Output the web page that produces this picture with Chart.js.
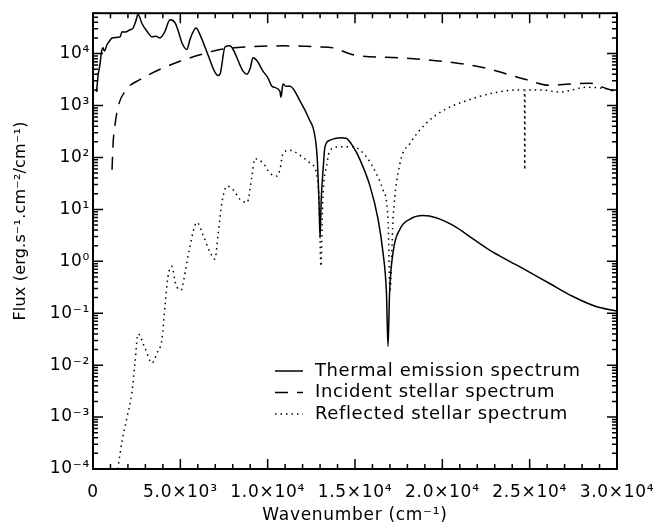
<!DOCTYPE html>
<html lang="en">
<head>
    <meta charset="UTF-8">
    <title>Flux spectra</title>
    <script src="https://cdn.jsdelivr.net/npm/chart.js"></script>
    <style>
        body { margin: 0; padding: 0; background: #fff; }
        canvas { display: block; }
    </style>
</head>
<body>
    <canvas id="spectrum" width="666" height="530"></canvas>

    <script>
        // Thermal emission spectrum (solid)
        const thermalWn = [200, 300, 400, 480, 570, 650, 800, 950, 1090, 1300, 1550, 1660, 1850, 2120, 2290, 2450, 2580,
            2800, 3090, 3380, 3600, 3840, 4100, 4410, 4700, 4900, 5100, 5380, 5550, 5900, 6130, 6580,
            6980, 7150, 7270, 7560, 7840, 8050, 8240, 8590, 8820, 9000, 9160, 9400, 9730, 10000, 10250, 10700, 10760,
            10880, 11050, 11280, 11850, 12420, 12650, 12830, 12940, 13000, 13060, 13180, 13280, 13570, 13910,
            14200, 14490, 14900, 15290, 15860, 16320, 16600, 16800, 16890, 16980, 17180, 17580, 18150,
            18900, 19640, 20620, 21760, 22900, 24450, 26170, 27480, 28800, 30000];
        const thermalFlux = [1820, 4000, 6200, 10500, 12900, 11200, 14800, 17500, 20000, 20500, 21000, 26300, 26000, 28800, 31000, 42000, 57000,
            38000, 27000, 21000, 21500, 20000, 26000, 44700, 39000, 26000, 15800, 12000, 18600, 31000, 23000, 9500,
            4400, 3800, 4000, 13500, 14100, 11500, 8300, 4600, 4000, 5200, 8300, 7200, 4600, 3500, 2350, 1900, 1450,
            2600, 2350, 2350, 1230, 510, 320, 105, 13.5, 2.8, 13.5, 63, 160, 215, 235,
            240, 235, 160, 90, 28, 6.5, 1.5, 0.25, 0.023, 0.25, 1.5, 4.2, 6.5,
            7.6, 6.9, 4.9, 2.7, 1.5, 0.78, 0.37, 0.21, 0.135, 0.11];

        // Incident stellar spectrum (dashed)
        const incidentWn = [1090, 1150, 1250, 1430, 1950, 2690, 3840, 4980, 6130, 7270, 8990, 10880, 12830,
            13740, 14890, 17580, 20040, 22330, 24790, 26170, 27080, 28460, 29200, 30000];
        const incidentFlux = [58, 186, 400, 930, 2100, 3160, 5000, 7100, 9500, 12000, 13500, 14100, 13500,
            12900, 9500, 8300, 7100, 5400, 3160, 2450, 2570, 2700, 2240, 1820];

        // Reflected stellar spectrum (dotted)
        const reflectedWn = [1420, 1660, 1950, 2230, 2400, 2580, 2980, 3380, 3660, 3950, 4120, 4290, 4500, 4750,
            5050, 5200, 5500, 5950, 6300, 6700, 6980, 7160, 7380, 7670, 8020, 8420, 8820, 9100, 9270, 9730,
            10130, 10530, 10700, 10880, 11280, 11850, 12420, 12830, 12950, 13050, 13150, 13400, 13570, 14140,
            14890, 15630, 16200, 16600, 16890, 17000, 17180, 17580, 18150, 19060, 20040, 21350, 22900, 24450,
            24700, 24720, 24740, 25600, 26740, 28230, 29370, 30000];
        const reflectedFlux = [1e-4, 3.4e-4, 1e-3, 3e-3, 0.011, 0.04, 0.021, 0.011, 0.017, 0.032, 0.135, 0.5, 0.8, 0.35,
            0.28, 0.45, 1.6, 5.6, 3.2, 1.5, 1.1, 3.2, 13.5, 28, 24, 15.5, 13.5, 44, 95, 78,
            50, 44, 58, 120, 138, 110, 78, 44, 13.5, 0.8, 13.5, 78, 138, 160,
            160, 105, 50, 24, 6.5, 0.26, 6.5, 78, 186, 450, 800, 1230, 1740, 2000,
            2000, 58, 2000, 2000, 1820, 2240, 2100, 1820];

        const xTicks = [0, 5000, 10000, 15000, 20000, 25000, 30000];
        const xTickLabels = ['0', '5.0×10³', '1.0×10⁴', '1.5×10⁴', '2.0×10⁴', '2.5×10⁴', '3.0×10⁴'];
        const yTicks = [1e-4, 1e-3, 1e-2, 1e-1, 1, 10, 100, 1000, 10000];
        const yTickLabels = ['10⁻⁴', '10⁻³', '10⁻²', '10⁻¹', '10⁰', '10¹', '10²', '10³', '10⁴'];

        const FONT = 'DejaVu Sans';

        function pairs(xs, ys) {
            return xs.map((v, i) => ({ x: v, y: ys[i] }));
        }

        // box, inward ticks on all four sides, axis titles and the legend inside the plot
        const framePlugin = {
            id: 'frame',
            beforeDraw(chart) {
                chart.ctx.letterSpacing = '0.7px';
            },
            afterDraw(chart) {
                const { ctx, chartArea: a, scales: { x, y } } = chart;
                ctx.save();
                ctx.strokeStyle = '#000';
                ctx.lineWidth = 2;
                ctx.strokeRect(a.left, a.top, a.right - a.left, a.bottom - a.top);

                ctx.lineWidth = 1.5;
                ctx.beginPath();
                for (let v = 0; v <= 30000; v += 1000) {
                    const px = x.getPixelForValue(v);
                    const len = v % 5000 === 0 ? 10 : 5;
                    ctx.moveTo(px, a.bottom); ctx.lineTo(px, a.bottom - len);
                    ctx.moveTo(px, a.top); ctx.lineTo(px, a.top + len);
                }
                for (let e = -4; e <= 4; e++) {
                    for (let m = 1; m <= 9; m++) {
                        const v = m * Math.pow(10, e);
                        if (v > y.max || v < y.min) continue;
                        const py = y.getPixelForValue(v);
                        const len = m === 1 ? 10 : 5;
                        ctx.moveTo(a.left, py); ctx.lineTo(a.left + len, py);
                        ctx.moveTo(a.right, py); ctx.lineTo(a.right - len, py);
                    }
                }
                ctx.stroke();

                ctx.fillStyle = '#000';
                ctx.textBaseline = 'middle';
                ctx.textAlign = 'center';

                // axis titles
                ctx.letterSpacing = '0.7px';
                ctx.font = '17px "' + FONT + '"';
                ctx.fillText('Wavenumber (cm⁻¹)', (a.left + a.right) / 2, 516);
                ctx.save();
                ctx.translate(21, 221);
                ctx.rotate(-Math.PI / 2);
                ctx.letterSpacing = '0.2px';
                ctx.font = '16px "' + FONT + '"';
                ctx.fillText('Flux (erg.s⁻¹.cm⁻²/cm⁻¹)', 0, 0);
                ctx.restore();

                // legend
                ctx.textAlign = 'left';
                ctx.letterSpacing = '0.6px';
                ctx.font = '18px "' + FONT + '"';
                chart.data.datasets.forEach((ds, i) => {
                    const ly = 371 + i * 21.5;
                    ctx.beginPath();
                    ctx.lineWidth = ds.borderWidth;
                    ctx.setLineDash(ds.borderDash || []);
                    ctx.moveTo(275, ly); ctx.lineTo(303, ly);
                    ctx.stroke();
                    ctx.setLineDash([]);
                    ctx.fillText(ds.label, 315, ly);
                });
                ctx.restore();
            }
        };

        new Chart(document.getElementById('spectrum'), {
            type: 'line',
            data: {
                datasets: [
                    {
                        label: 'Thermal emission spectrum',
                        data: pairs(thermalWn, thermalFlux),
                        borderColor: '#000',
                        borderWidth: 1.5,
                        pointRadius: 0,
                        cubicInterpolationMode: 'monotone',
                    },
                    {
                        label: 'Incident stellar spectrum',
                        data: pairs(incidentWn, incidentFlux),
                        borderColor: '#000',
                        borderWidth: 1.5,
                        borderDash: [13, 9],
                        pointRadius: 0,
                        cubicInterpolationMode: 'monotone',
                    },
                    {
                        label: 'Reflected stellar spectrum',
                        data: pairs(reflectedWn, reflectedFlux),
                        borderColor: '#000',
                        borderWidth: 1.5,
                        borderDash: [1.5, 4],
                        pointRadius: 0,
                        cubicInterpolationMode: 'monotone',
                    },
                ],
            },
            options: {
                responsive: false,
                animation: false,
                layout: { padding: { left: 0, top: 9, right: 49, bottom: 0 } },
                plugins: {
                    legend: { display: false },
                    tooltip: { enabled: false },
                },
                scales: {
                    x: {
                        type: 'linear',
                        min: 0,
                        max: 30000,
                        grid: { display: false, drawTicks: false },
                        border: { display: false },
                        afterBuildTicks: (scale) => { scale.ticks = xTicks.map(v => ({ value: v })); },
                        afterFit: (scale) => { scale.height = 61; },
                        ticks: {
                            color: '#000',
                            padding: 13,
                            maxRotation: 0,
                            autoSkip: false,
                            font: { family: FONT, size: 17 },
                            callback: (v) => xTickLabels[xTicks.indexOf(v)],
                        },
                    },
                    y: {
                        type: 'logarithmic',
                        min: 1e-4,
                        max: 6e4,
                        grid: { display: false, drawTicks: false },
                        border: { display: false },
                        afterBuildTicks: (scale) => { scale.ticks = yTicks.map(v => ({ value: v })); },
                        afterFit: (scale) => { scale.width = 93; },
                        ticks: {
                            color: '#000',
                            padding: 3,
                            autoSkip: false,
                            font: { family: FONT, size: 17 },
                            callback: (v) => yTickLabels[yTicks.indexOf(v)],
                        },
                    },
                },
            },
            plugins: [framePlugin],
        });
    </script>
</body>
</html>
